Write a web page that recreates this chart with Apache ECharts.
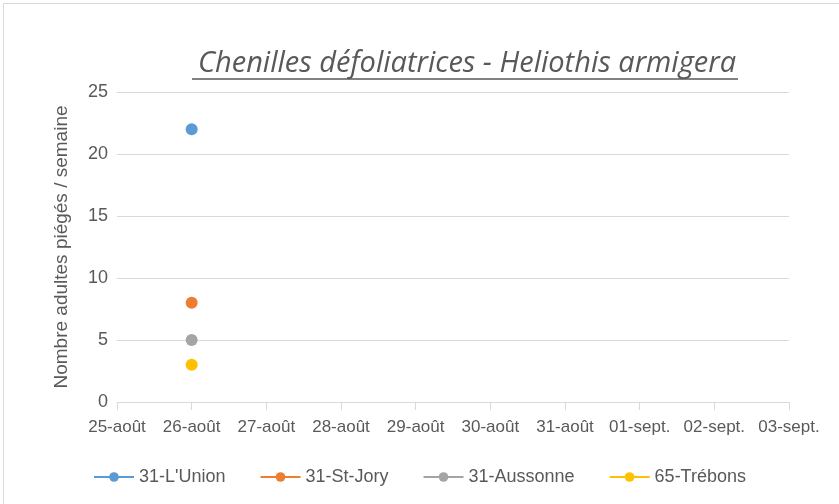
<!DOCTYPE html>
<html><head><meta charset="utf-8">
<script src="https://cdn.jsdelivr.net/npm/echarts@6/dist/echarts.min.js"></script>
<style>html,body{margin:0;padding:0;background:#fff}#c{width:839px;height:504px}</style>
</head><body><div id="c"></div>
<script>
const categories = ['25-août','26-août','27-août','28-août','29-août','30-août','31-août','01-sept.','02-sept.','03-sept.'];
const seriesNames = ['31-L\'Union','31-St-Jory','31-Aussonne','65-Trébons'];
const unionVals = [null,22,null,null,null,null,null,null,null,null];
const stJoryVals = [null,8,null,null,null,null,null,null,null,null];
const aussonneVals = [null,5,null,null,null,null,null,null,null,null];
const trebonsVals = [null,3,null,null,null,null,null,null,null,null];
const colors = ['#5b9bd5','#ed7d31','#a5a5a5','#ffc000'];
const values = [unionVals, stJoryVals, aussonneVals, trebonsVals];

const chart = echarts.init(document.getElementById('c'));
const narrow = '"Liberation Sans Narrow", "Liberation Sans", sans-serif';
chart.setOption({
  animation:false,
  title:{text:'Chenilles défoliatrices - Heliothis armigera', left:462, textAlign:'center', top:44,
    textStyle:{fontFamily:'"Open Sans", sans-serif', fontStyle:'italic', fontWeight:'normal', fontSize:29, color:'#595959'}},
  graphic:[
    {type:'rect', left:1, top:1, shape:{width:836, height:501}, style:{fill:'none', stroke:'#d9d9d9', lineWidth:1}},
    {type:'line', shape:{x1:192, y1:79, x2:738, y2:79}, style:{stroke:'#595959', lineWidth:1.5}}
  ],
  grid:{left:117, right:50, top:92, bottom:102},
  legend:{bottom:13, left:'center', itemGap:34, itemWidth:40, itemHeight:12,
    textStyle:{fontFamily:narrow, fontSize:18, color:'#595959'},
    data:seriesNames},
  xAxis:{type:'category', data:categories, boundaryGap:false,
    axisLine:{lineStyle:{color:'#d9d9d9'}},
    axisTick:{show:true, length:8, lineStyle:{color:'#d9d9d9'}},
    axisLabel:{fontFamily:narrow, fontSize:17, color:'#595959', margin:17, interval:0},
    splitLine:{show:false}},
  yAxis:{type:'value', min:0, max:25, interval:5,
    name:'Nombre adultes piégés / semaine', nameLocation:'middle', nameGap:46,
    nameTextStyle:{fontFamily:'"Liberation Sans", sans-serif', fontSize:19, color:'#595959'},
    axisLine:{show:false}, axisTick:{show:false},
    axisLabel:{fontFamily:narrow, fontSize:18, color:'#595959', margin:9},
    splitLine:{lineStyle:{color:'#d9d9d9'}}},
  series: seriesNames.map((n,i)=>({name:n, type:'line', data:values[i], symbol:'circle', symbolSize:12,
    color:colors[i], lineStyle:{width:3, color:colors[i]}, itemStyle:{color:colors[i]}, connectNulls:false}))
});
</script></body></html>
